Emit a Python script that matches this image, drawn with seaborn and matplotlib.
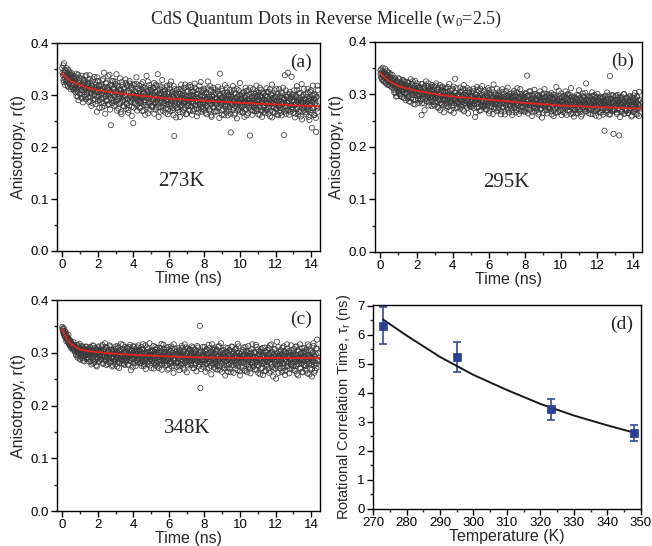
import numpy as np
import pandas as pd
import matplotlib.pyplot as plt
import seaborn as sns

# anisotropy decays, r(t) x 1000; channels are 0.015 ns apart,
# stored as even channels (first block) and odd channels (second block)
time_step = 0.015

r_273K_even = """
352 338 329 361 344 331 347 326 340 335 318 349 337 322 343 330 315 339 327 334 312 331 320 336
328 305 319 341 311 297 324 316 333 302 318 309 337 293 321 314 329 306 296 323 312 338 301 317
295 322 308 331 289 314 303 326 318 284 311 299 335 307 292 320 313 268 305 327 298 316 290 309
317 286 303 328 294 311 343 279 306 298 322 289 314 301 336 283 309 295 319 242 304 327 291 312
288 315 299 326 281 307 293 318 302 274 311 296 332 285 309 263 301 320 290 305 278 314 297 323
306 283 319 292 271 304 327 289 298 316 277 310 294 246 301 321 285 307 293 334 280 298 312 287
292 318 276 303 289 311 297 325 270 305 286 314 299 281 337 294 308 265 300 319 283 296 310 288
301 279 314 292 323 285 306 272 297 318 289 340 277 303 294 311 268 299 286 315 293 307 280 302
285 309 274 297 318 290 263 305 283 312 294 278 326 288 301 271 296 317 221 287 304 292 275 310
298 276 311 287 267 302 293 320 281 295 308 272 289 314 285 299 263 306 290 279 316 284 297 270
291 315 278 300 286 269 307 293 322 280 296 311 274 288 303 266 294 318 283 299 276 309 290 285
273 298 312 284 291 266 305 279 296 326 287 301 270 293 310 282 258 297 289 314 276 300 285 292
304 281 293 269 316 288 277 299 341 284 295 262 308 290 273 301 286 319 279 293 267 305 289 282
296 270 310 285 228 299 281 292 317 276 289 303 265 294 284 312 278 290 271 301 287 323 280 293
279 301 288 266 306 283 295 272 314 287 261 298 285 309 276 292 222 286 303 279 294 270 311 284
290 275 302 284 318 269 296 281 305 288 262 299 277 310 286 294 271 287 303 280 265 298 284 313
271 297 283 306 276 290 259 301 286 320 279 294 268 287 309 281 296 273 288 263 302 285 278 311
288 266 305 282 295 274 314 285 223 292 279 309 270 297 284 343 276 289 302 268 293 281 335 277
296 272 287 309 281 264 298 284 317 275 290 268 303 283 294 259 288 321 276 285 300 270 292 279
267 301 284 273 312 289 258 295 280 306 271 290 237 284 318 276 293 262 300 285 229 297 274 310
"""
r_273K_odd = """
343 357 325 339 348 319 336 352 328 341 316 333 345 324 338 311 329 342 318 334 323 309 327 315
312 334 298 322 307 339 290 316 327 303 320 295 331 309 286 318 326 300 313 336 292 319 305 324
321 287 312 338 296 305 279 318 309 330 291 314 302 325 283 310 297 334 288 306 319 275 311 300
293 320 276 308 331 285 301 315 264 297 324 289 310 281 316 299 339 272 305 293 318 284 302 327
311 279 296 321 287 340 270 305 292 316 283 298 310 267 303 325 286 296 279 312 300 290 330 273
284 317 293 266 308 280 322 297 287 313 260 302 291 319 276 298 306 283 295 321 270 289 304 296
309 275 298 286 321 269 294 315 281 303 290 262 311 296 277 305 326 286 293 272 300 314 279 307
277 303 290 313 264 299 286 320 276 295 307 283 258 300 318 289 276 304 293 329 270 297 284 311
303 266 292 281 315 287 273 302 296 320 269 290 283 306 275 298 261 294 311 280 288 257 300 285
271 305 282 296 258 289 312 278 300 285 267 303 293 275 320 287 297 264 291 308 280 272 298 319
304 279 293 262 307 284 298 273 314 289 280 301 259 295 286 309 272 290 281 325 268 297 305 277
284 309 270 296 280 302 263 291 313 276 288 297 273 317 284 261 299 290 278 306 287 268 294 311
268 294 283 307 275 290 256 302 287 281 312 270 296 285 304 262 291 279 298 273 314 288 261 299
301 277 291 264 305 283 296 271 288 310 262 292 279 303 286 255 297 282 309 274 290 268 299 284
292 268 304 279 287 258 299 286 273 308 281 292 265 301 276 289 314 271 285 297 262 290 278 303
269 296 281 307 273 288 300 263 292 279 314 285 270 297 258 289 304 276 291 268 299 285 272 306
297 276 264 293 285 311 270 288 299 257 284 303 276 291 266 298 283 312 274 289 261 295 280 270
275 299 287 261 304 283 293 268 291 338 279 264 296 285 301 270 289 262 306 280 294 273 289 300
301 266 290 281 257 298 285 273 310 287 263 295 278 304 268 291 282 253 297 286 274 312 279 291
284 263 296 277 305 270 289 252 293 281 309 266 287 299 274 261 302 283 291 256 296 279 318 268
"""

r_295K_even = """
346 333 340 328 351 337 325 343 331 339 322 334 345 327 336 318 330 341 324 332 315 328 337 320
326 309 318 331 303 321 312 297 325 315 306 329 311 300 319 323 295 314 308 327 302 316 310 289
318 301 324 296 311 287 315 305 329 293 309 320 299 282 312 306 326 290 303 316 297 313 284 308
297 314 288 309 261 302 320 292 306 283 311 298 325 287 304 294 316 279 300 310 289 307 295 318
308 286 299 315 279 303 293 321 288 310 296 274 305 291 318 284 300 313 280 297 306 266 294 311
290 312 283 299 305 276 294 320 287 301 269 296 309 284 298 315 279 292 330 288 303 274 297 285
301 282 296 313 277 290 305 286 271 299 318 284 293 308 279 296 289 312 264 291 303 283 297 276
286 304 277 295 311 283 292 257 300 288 314 275 296 284 307 269 293 301 280 289 316 278 294 287
295 279 308 286 271 297 283 312 290 264 302 287 296 276 309 282 293 319 273 288 300 281 294 268
282 299 274 291 306 280 294 268 288 310 277 293 284 301 262 290 279 297 286 313 271 289 296 278
291 273 302 284 266 295 281 307 288 276 298 270 289 312 280 293 263 286 301 277 294 283 269 300
276 296 285 267 303 282 290 336 274 288 299 271 284 306 279 292 259 287 297 275 283 301 268 290
289 271 298 283 262 294 279 306 286 273 300 281 292 265 288 310 277 296 282 270 301 286 274 293
274 295 281 268 303 287 276 292 259 284 299 273 288 314 279 291 266 285 297 278 283 270 302 287
285 267 298 280 292 273 306 284 261 289 277 301 282 294 269 287 312 276 290 280 264 296 283 272
270 293 281 299 265 286 277 308 283 272 291 258 287 279 302 274 295 282 268 289 321 276 284 297
288 271 296 279 263 290 283 304 275 286 297 268 281 293 260 286 278 301 272 289 280 266 294 283
266 291 280 295 273 287 231 283 298 270 284 304 277 289 262 281 335 274 292 279 268 286 298 271
284 270 297 278 289 263 282 299 274 222 288 271 294 280 267 290 283 276 301 264 285 279 293 270
279 293 265 284 274 297 269 287 281 260 292 276 289 268 303 277 284 271 295 262 288 280 305 273
"""
r_295K_odd = """
339 348 330 344 335 326 341 332 349 323 337 328 319 334 342 325 330 317 338 322 327 313 331 318
321 304 329 313 296 318 325 308 315 331 301 312 322 297 316 309 327 305 320 293 314 324 303 311
305 317 293 322 311 298 314 286 308 319 302 325 290 311 304 316 281 309 298 321 306 292 313 300
312 291 305 320 283 301 310 296 315 270 303 292 317 288 306 299 321 285 309 294 302 314 278 297
294 310 281 302 296 317 285 299 308 276 292 313 289 301 270 296 307 283 315 290 298 279 305 292
303 278 296 289 314 283 300 270 293 307 286 299 280 311 291 265 297 304 284 293 312 287 276 300
285 300 291 273 306 288 297 280 311 294 268 290 303 283 299 287 275 306 292 281 309 278 296 288
298 281 290 306 274 295 287 300 266 292 282 309 289 276 297 293 311 270 286 299 280 292 305 276
281 296 272 290 303 279 294 285 308 269 291 283 300 278 295 263 287 304 282 291 275 299 286 311
293 270 288 300 281 295 262 290 284 305 275 289 296 268 283 307 279 292 273 298 287 266 301 281
278 297 286 261 292 280 302 274 289 295 266 283 304 279 290 272 296 285 310 268 284 298 276 289
290 268 294 279 301 273 286 297 264 288 280 306 271 292 285 299 266 283 294 278 309 274 288 281
275 292 280 299 266 287 296 273 290 283 256 294 278 302 287 270 295 281 289 264 297 283 276 300
289 272 296 283 262 291 279 300 270 286 294 265 283 296 275 288 281 307 268 292 279 286 261 295
271 288 279 297 265 284 293 276 300 282 270 291 276 287 299 263 282 295 274 289 283 258 294 280
286 264 292 276 289 271 298 283 267 294 280 290 262 285 297 277 288 272 303 281 268 292 279 287
265 289 275 294 281 270 297 285 263 290 278 299 284 269 287 295 271 283 290 258 286 296 274 282
284 270 293 262 288 280 296 274 287 265 292 281 270 298 286 276 262 291 283 299 271 288 225 283
272 289 279 298 266 284 293 271 287 279 257 290 282 296 268 285 277 300 263 288 281 269 294 278
287 265 283 296 270 289 279 258 294 276 286 267 298 280 272 291 263 285 297 274 282 259 290 277
"""

r_348K_even = """
349 341 344 336 338 331 340 327 333 325 329 321 326 318 323 315 320 312 317 309 314 320 306 311
303 312 297 308 301 315 294 306 310 289 304 299 313 296 307 285 302 309 293 305 298 311 290 303
296 308 289 303 311 284 299 305 292 314 280 301 297 309 287 302 276 298 306 291 312 283 300 295
304 288 312 295 281 301 307 292 318 286 299 293 310 279 303 296 289 314 297 284 305 291 300 276
291 306 283 299 312 287 302 274 296 309 290 281 304 295 317 285 298 292 308 279 301 289 311 294
300 286 309 293 278 303 296 315 284 297 290 306 273 299 288 312 294 281 302 297 285 310 289 305
287 304 296 280 311 292 299 283 306 275 298 290 314 286 301 293 279 308 295 284 303 289 297 271
302 285 297 313 281 294 306 276 299 290 309 283 296 271 304 288 301 293 317 279 295 286 307 292
284 299 290 306 277 295 288 311 270 297 283 303 291 280 308 294 286 316 275 296 289 302 281 298
297 281 309 290 274 301 294 286 313 279 298 291 305 268 295 287 310 283 299 276 303 292 285 307
289 303 277 296 285 310 292 271 299 287 306 280 294 313 283 297 274 290 351 233 301 286 295 279
300 284 293 311 278 296 288 305 270 291 299 282 309 287 275 302 293 316 280 290 298 272 306 285
281 297 306 275 292 285 313 289 268 301 294 279 304 287 296 271 299 283 310 291 276 302 288 264
296 278 305 289 263 298 284 311 290 277 302 286 295 270 308 281 293 317 275 289 300 265 292 283
287 301 271 294 310 282 297 266 289 304 278 295 285 313 273 292 299 261 286 307 280 296 290 274
300 279 292 315 268 290 283 306 275 297 288 259 302 286 294 271 309 281 296 265 291 303 277 289
276 294 287 309 262 298 281 292 316 273 290 301 268 285 306 279 295 251 288 299 274 311 284 293
293 271 305 284 297 266 289 312 279 295 258 301 287 274 308 292 281 303 269 296 286 314 276 290
282 300 268 294 287 311 275 296 260 289 305 279 293 284 316 270 298 288 264 302 285 277 309 291
297 275 306 286 261 293 312 280 290 270 303 287 255 299 283 318 276 294 266 289 308 279 325 284
"""
r_348K_odd = """
345 338 347 333 341 329 336 322 331 327 320 334 316 325 313 322 309 318 314 306 316 308 313 302
310 296 305 314 291 302 308 298 317 287 306 293 303 311 290 299 307 284 301 295 312 288 304 297
292 305 283 300 294 309 278 298 304 287 313 295 282 303 291 307 274 299 289 310 285 301 293 306
287 301 294 315 279 297 305 286 293 311 277 300 290 304 283 296 312 281 298 292 306 274 302 288
303 285 296 278 308 290 299 313 283 294 271 302 288 297 306 280 293 315 286 299 277 304 291 283
289 308 277 298 292 311 285 301 267 295 303 288 312 280 296 291 307 275 299 286 304 282 314 290
298 281 303 290 275 306 287 316 279 294 300 284 269 297 310 289 282 301 292 318 276 295 287 304
285 303 291 270 299 286 311 281 295 306 274 292 300 287 278 309 293 284 268 302 289 315 280 297
301 276 294 310 285 268 299 290 306 279 293 284 312 274 300 289 262 297 286 308 280 295 273 304
284 300 289 267 305 293 278 296 309 285 272 301 290 316 281 294 287 263 299 308 279 292 305 284
297 280 312 288 271 300 293 306 277 289 302 265 295 284 310 291 278 299 283 304 269 292 287 311
273 295 286 303 264 291 307 280 297 288 315 271 284 300 292 259 296 287 306 278 293 310 282 269
303 279 292 268 311 286 296 275 290 318 283 264 299 288 305 277 293 257 291 302 284 271 309 295
286 304 270 293 281 312 276 289 298 262 295 284 307 278 291 300 267 287 312 281 294 257 298 289
276 293 305 281 297 266 289 311 279 292 263 300 287 276 303 294 270 289 298 282 316 273 285 301
292 268 299 285 311 277 294 262 288 303 281 296 270 307 284 296 258 292 279 310 287 266 300 283
305 283 270 298 287 314 265 292 279 301 289 255 296 283 307 271 292 285 321 277 294 262 289 303
279 297 286 263 309 281 294 272 303 288 266 298 283 316 275 291 300 261 287 294 279 305 270 296
294 275 307 288 266 297 283 312 278 291 257 302 286 271 299 290 280 309 293 263 287 303 276 292
268 302 289 279 316 284 296 259 292 305 277 290 269 301 286 313 262 294 281 297 271 308 286 299
"""

# fitted curves
fit_t = [0, 0.1, 0.25, 0.5, 1, 1.5, 2, 3, 4, 6, 8, 10, 12, 14.5]
fit_273K = [0.341, 0.338, 0.333, 0.326, 0.319, 0.313, 0.309, 0.304, 0.300, 0.293, 0.289, 0.285, 0.282, 0.278]
fit_295K = [0.341, 0.337, 0.332, 0.325, 0.316, 0.311, 0.307, 0.301, 0.296, 0.290, 0.284, 0.279, 0.276, 0.273]
fit_348K = [0.344, 0.336, 0.327, 0.316, 0.306, 0.303, 0.301, 0.298, 0.296, 0.293, 0.291, 0.290, 0.290, 0.290]

# panel d: rotational correlation time vs temperature
temps = [273, 295, 323, 348]
tau_r = [6.32, 5.23, 3.43, 2.62]
tau_err = [0.63, 0.52, 0.35, 0.27]
fit_T = [273, 280, 290, 300, 310, 320, 330, 340, 348]
fit_tau = [6.53, 5.98, 5.24, 4.62, 4.10, 3.62, 3.22, 2.88, 2.63]

sns.set_theme(style='ticks')
plt.rcParams['font.family'] = ['Liberation Sans', 'DejaVu Sans']
plt.rcParams['xtick.direction'] = 'out'
plt.rcParams['ytick.direction'] = 'out'

fig = plt.figure(figsize=(6.52, 5.46), dpi=100)
ax_a = fig.add_axes([0.0874, 0.5403, 0.4034, 0.3809])
ax_b = fig.add_axes([0.5752, 0.5385, 0.4095, 0.3846])
ax_c = fig.add_axes([0.0874, 0.0641, 0.4034, 0.3864])
ax_d = fig.add_axes([0.5721, 0.0678, 0.4110, 0.3736])

serif = ['Liberation Serif', 'DejaVu Serif']


def style_axes(ax):
    for sp in ax.spines.values():
        sp.set_visible(True)
        sp.set_color('black')
        sp.set_linewidth(1.0)
    ax.tick_params(which='major', length=4, width=1, labelsize=9.5, pad=2, colors='black')
    ax.tick_params(which='minor', length=2.5, width=1)
    ax.minorticks_on()


def channels(even, odd):
    a = np.array(even.split(), dtype=float) / 1000
    b = np.array(odd.split(), dtype=float) / 1000
    r = np.empty(a.size + b.size)
    r[0::2] = a
    r[1::2] = b
    return pd.DataFrame({'t': np.arange(r.size) * time_step, 'r': r})


panels = [(ax_a, channels(r_273K_even, r_273K_odd), fit_273K, '(a)', '273K', (6.7, 0.133)),
          (ax_b, channels(r_295K_even, r_295K_odd), fit_295K, '(b)', '295K', (7.0, 0.133)),
          (ax_c, channels(r_348K_even, r_348K_odd), fit_348K, '(c)', '348K', (7.0, 0.157))]

for ax, df, fit, tag, temp_lbl, pos in panels:
    sns.scatterplot(data=df, x='t', y='r', ax=ax, marker='o', s=14,
                    facecolor='none', edgecolor='#3a3a3a', linewidth=0.55)
    sns.lineplot(x=fit_t, y=fit, ax=ax, color='#e8241c', linewidth=1.3)
    ax.set_xlim(-0.3, 14.5)
    ax.set_ylim(0, 0.4)
    ax.set_xticks(np.arange(0, 15, 2))
    ax.set_yticks([0.0, 0.1, 0.2, 0.3, 0.4])
    ax.set_yticklabels(['0.0', '0.1', '0.2', '0.3', '0.4'])
    style_axes(ax)
    ax.xaxis.set_minor_locator(plt.MultipleLocator(1))
    ax.yaxis.set_minor_locator(plt.MultipleLocator(0.05))
    ax.set_xlabel('Time (ns)', fontsize=11.5, labelpad=0)
    ax.set_ylabel('Anisotropy, r(t)', fontsize=11.5, labelpad=3)
    ax.text(0.97, 0.95, tag, transform=ax.transAxes, ha='right', va='top',
            fontsize=14, family=serif)
    ax.text(pos[0], pos[1], temp_lbl, ha='center', va='center', fontsize=15, family=serif)

# panel d
ax_d.errorbar(temps, tau_r, yerr=tau_err, fmt='none', ecolor='#2d4a9e',
              elinewidth=1.2, capsize=3, capthick=1.2)
sns.lineplot(x=fit_T, y=fit_tau, ax=ax_d, color='#1a1a1a', linewidth=1.4)
sns.scatterplot(x=temps, y=tau_r, ax=ax_d, marker='s', s=40, color='#2a3f96',
                edgecolor='#2a3f96', zorder=3)
ax_d.set_xlim(270, 350)
ax_d.set_ylim(0, 7.03)
ax_d.set_xticks(np.arange(270, 351, 10))
ax_d.set_yticks(np.arange(0, 8, 1))
style_axes(ax_d)
ax_d.xaxis.set_minor_locator(plt.MultipleLocator(5))
ax_d.yaxis.set_minor_locator(plt.MultipleLocator(0.5))
ax_d.set_xlabel('Temperature (K)', fontsize=11.5, labelpad=0)
ax_d.set_ylabel('Rotational Correlation Time, \u03c4$\\mathregular{_r}$ (ns)', fontsize=10.5, labelpad=3)
ax_d.text(0.97, 0.95, '(d)', transform=ax_d.transAxes, ha='right', va='top',
          fontsize=14, family=serif)

fig.text(0.5, 0.965, 'CdS Quantum Dots in Reverse Micelle (w$\\mathregular{_0}$=2.5)',
         ha='center', va='center', fontsize=13, family=serif)

fig.savefig('out.png', dpi=100)
